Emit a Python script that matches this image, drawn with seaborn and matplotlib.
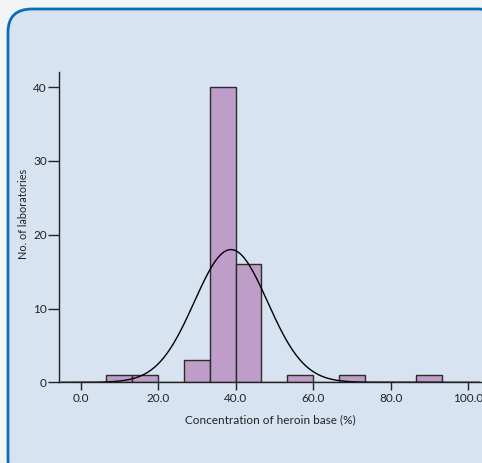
import numpy as np
import pandas as pd
import matplotlib
matplotlib.use("Agg")
import matplotlib.pyplot as plt
from matplotlib.patches import FancyBboxPatch
import seaborn as sns

# Histogram bins (width 100/15) and counts
bin_edges = [6.67, 13.33, 20.0, 26.67, 33.33, 40.0, 46.67, 53.33, 60.0, 66.67, 73.33, 80.0, 86.67, 93.33]
bin_counts = [1, 1, 0, 3, 40, 16, 0, 1, 0, 1, 0, 0, 1]
# fitted normal curve parameters
curve_mean = 38.8
curve_sd = 9.45

x_ticks = [0, 20, 40, 60, 80, 100]
x_tick_labels = ["0.0", "20.0", "40.0", "60.0", "80.0", "100.0"]
y_ticks = [0, 10, 20, 30, 40]

centers = [(a + b) / 2 for a, b in zip(bin_edges[:-1], bin_edges[1:])]
df = pd.DataFrame({"conc": centers, "n": bin_counts})
df = df[df["n"] > 0]

sns.set_style("white")
plt.rcParams["font.family"] = ["Lato", "DejaVu Sans"]

fig = plt.figure(figsize=(4.82, 4.63), dpi=100)
fig.patch.set_facecolor("#F3F4F6")

W, H = 482, 463
box = FancyBboxPatch((8 / W, -20 / H), (482 - 8 + 20) / W, (463 - 9 + 20) / H,
                     boxstyle="round,pad=0,rounding_size=0.05",
                     transform=fig.transFigure, facecolor="#D7E3F1",
                     edgecolor="#0B6DB6", linewidth=2.0, zorder=-5)
fig.patches.append(box)

ax = fig.add_axes([59.3 / W, (H - 382.3) / H, (W - 59.3) / W, (382.3 - 71.7) / H])
ax.set_facecolor("none")
ax.set_zorder(2)

sns.histplot(data=df, x="conc", weights="n", bins=bin_edges, ax=ax,
             color="#BE9DC8", alpha=1, edgecolor="#2B2B2B", linewidth=1.0)

xs = np.linspace(-5, 103, 400)
bw = bin_edges[1] - bin_edges[0]
total = sum(bin_counts)
ys = total * bw / (curve_sd * np.sqrt(2 * np.pi)) * np.exp(-0.5 * ((xs - curve_mean) / curve_sd) ** 2)
sns.lineplot(x=xs, y=ys, ax=ax, color="black", linewidth=1.0)

ax.set_xlim(-5.5, 103.6)
ax.set_ylim(0, 42.1)
ax.set_xticks(x_ticks)
ax.set_xticklabels(x_tick_labels)
ax.set_yticks(y_ticks)

for side in ["top", "right"]:
    ax.spines[side].set_visible(False)
for side in ["left", "bottom"]:
    ax.spines[side].set_color("#222222")
    ax.spines[side].set_linewidth(1.0)

ax.tick_params(axis="x", direction="out", length=6, width=1, color="#222222",
               labelsize=8.5, labelcolor="#222222", pad=2, bottom=True)
ax.tick_params(axis="y", direction="out", length=8, width=1, color="#222222",
               labelsize=8.5, labelcolor="#222222", pad=1, left=True)

ax.set_xlabel("Concentration of heroin base (%)", fontsize=8.5, color="#222222", labelpad=7)
ax.set_ylabel("No. of laboratories", fontsize=7.8, color="#222222")
ax.yaxis.set_label_coords(-(59.3 - 29.5) / (W - 59.3), (382.3 - 213.5) / 310.6)

fig.savefig("out.png", dpi=100, facecolor=fig.get_facecolor())
